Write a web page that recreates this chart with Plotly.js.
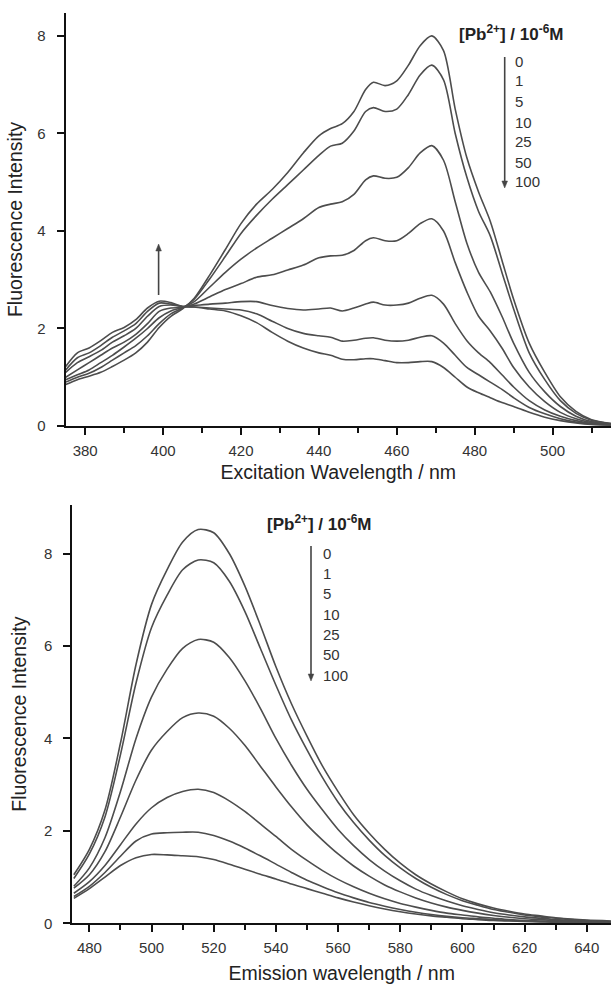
<!DOCTYPE html>
<html>
<head>
<meta charset="utf-8">
<script src="https://cdn.plot.ly/plotly-3.0.1.min.js"></script>
<style>html,body{margin:0;padding:0;background:#fff;}#chart{width:611px;height:984px;}</style>
</head>
<body>
<div id="chart"></div>
<script>
// ---------- data ----------
const concLabels = ['0', '1', '5', '10', '25', '50', '100'];

// Excitation spectra (top panel)
const exX = [375, 378, 381, 384, 387, 390, 393, 396, 399, 402, 405, 408, 412, 416, 420, 424, 428, 432, 436, 440, 443, 446, 449, 452, 454, 457, 460, 463, 466, 469, 472, 475, 478, 481, 484, 487, 490, 494, 498, 502, 506, 510, 515];
const ex0   = [0.85, 0.95, 1.02, 1.10, 1.22, 1.35, 1.50, 1.72, 2.02, 2.25, 2.40, 2.62, 3.10, 3.62, 4.15, 4.55, 4.85, 5.20, 5.60, 5.95, 6.10, 6.20, 6.45, 6.90, 7.05, 6.98, 7.08, 7.40, 7.80, 8.00, 7.70, 6.50, 5.50, 4.80, 4.20, 3.40, 2.60, 1.70, 1.10, 0.60, 0.30, 0.13, 0.05];
const ex1   = [0.90, 1.00, 1.08, 1.20, 1.35, 1.50, 1.65, 1.85, 2.10, 2.30, 2.42, 2.60, 3.02, 3.48, 3.95, 4.32, 4.65, 4.95, 5.25, 5.55, 5.74, 5.80, 6.05, 6.45, 6.53, 6.45, 6.50, 6.80, 7.20, 7.40, 7.10, 6.00, 5.10, 4.40, 3.90, 3.15, 2.40, 1.50, 0.95, 0.52, 0.26, 0.12, 0.05];
const ex5   = [0.95, 1.05, 1.15, 1.30, 1.45, 1.62, 1.80, 2.00, 2.22, 2.36, 2.43, 2.55, 2.85, 3.15, 3.42, 3.65, 3.85, 4.05, 4.25, 4.48, 4.55, 4.60, 4.75, 5.05, 5.13, 5.08, 5.10, 5.30, 5.60, 5.75, 5.45, 4.60, 3.75, 3.15, 2.75, 2.25, 1.70, 1.10, 0.70, 0.40, 0.20, 0.09, 0.04];
const ex10  = [1.00, 1.15, 1.30, 1.45, 1.60, 1.72, 1.88, 2.10, 2.35, 2.42, 2.43, 2.50, 2.65, 2.80, 2.92, 3.05, 3.10, 3.20, 3.30, 3.45, 3.49, 3.50, 3.60, 3.80, 3.86, 3.80, 3.80, 3.95, 4.15, 4.25, 4.00, 3.35, 2.75, 2.25, 1.95, 1.60, 1.20, 0.80, 0.50, 0.28, 0.15, 0.07, 0.03];
const ex25  = [1.10, 1.30, 1.42, 1.55, 1.72, 1.85, 2.00, 2.25, 2.45, 2.48, 2.45, 2.47, 2.50, 2.52, 2.55, 2.55, 2.47, 2.41, 2.38, 2.40, 2.42, 2.36, 2.42, 2.50, 2.54, 2.48, 2.48, 2.52, 2.62, 2.68, 2.50, 2.10, 1.75, 1.50, 1.30, 1.05, 0.80, 0.52, 0.33, 0.20, 0.11, 0.05, 0.02];
const ex50  = [1.15, 1.40, 1.50, 1.65, 1.82, 1.95, 2.10, 2.35, 2.52, 2.50, 2.45, 2.44, 2.42, 2.40, 2.38, 2.30, 2.15, 2.00, 1.90, 1.85, 1.82, 1.74, 1.76, 1.80, 1.81, 1.76, 1.74, 1.76, 1.82, 1.85, 1.70, 1.45, 1.20, 1.05, 0.90, 0.75, 0.58, 0.38, 0.25, 0.15, 0.08, 0.04, 0.02];
const ex100 = [1.22, 1.50, 1.60, 1.75, 1.92, 2.02, 2.18, 2.42, 2.56, 2.53, 2.45, 2.44, 2.40, 2.36, 2.26, 2.12, 1.92, 1.74, 1.60, 1.50, 1.45, 1.37, 1.36, 1.38, 1.38, 1.34, 1.30, 1.30, 1.32, 1.32, 1.20, 1.00, 0.80, 0.68, 0.58, 0.48, 0.40, 0.28, 0.18, 0.11, 0.06, 0.03, 0.02];

// Emission spectra (bottom panel)
const emX = [475, 480, 485, 490, 495, 500, 505, 510, 515, 520, 525, 530, 535, 540, 545, 550, 555, 560, 565, 570, 575, 580, 585, 590, 595, 600, 605, 610, 615, 620, 625, 630, 635, 640, 648];
const em0   = [1.05, 1.60, 2.45, 3.90, 5.60, 6.90, 7.65, 8.25, 8.52, 8.45, 8.00, 7.30, 6.45, 5.55, 4.75, 4.05, 3.40, 2.85, 2.35, 1.95, 1.60, 1.30, 1.05, 0.85, 0.68, 0.53, 0.42, 0.33, 0.26, 0.20, 0.16, 0.12, 0.09, 0.07, 0.05];
const em1   = [0.97, 1.50, 2.30, 3.65, 5.20, 6.40, 7.10, 7.65, 7.86, 7.80, 7.40, 6.75, 5.95, 5.15, 4.40, 3.75, 3.15, 2.62, 2.18, 1.80, 1.47, 1.20, 0.97, 0.78, 0.62, 0.49, 0.39, 0.30, 0.24, 0.18, 0.14, 0.11, 0.08, 0.06, 0.04];
const em5   = [0.80, 1.20, 1.85, 2.85, 4.00, 4.90, 5.50, 5.95, 6.14, 6.08, 5.75, 5.25, 4.65, 4.00, 3.42, 2.90, 2.45, 2.03, 1.68, 1.38, 1.13, 0.92, 0.74, 0.60, 0.48, 0.38, 0.30, 0.23, 0.18, 0.14, 0.11, 0.08, 0.06, 0.05, 0.03];
const em10  = [0.76, 1.05, 1.55, 2.30, 3.10, 3.75, 4.15, 4.45, 4.55, 4.48, 4.22, 3.85, 3.40, 2.95, 2.52, 2.13, 1.80, 1.50, 1.24, 1.02, 0.83, 0.68, 0.55, 0.44, 0.35, 0.28, 0.22, 0.17, 0.13, 0.10, 0.08, 0.06, 0.05, 0.04, 0.02];
const em25  = [0.65, 0.90, 1.25, 1.70, 2.15, 2.50, 2.72, 2.85, 2.90, 2.83, 2.65, 2.42, 2.15, 1.88, 1.60, 1.36, 1.14, 0.95, 0.79, 0.65, 0.53, 0.43, 0.35, 0.28, 0.22, 0.18, 0.14, 0.11, 0.08, 0.06, 0.05, 0.04, 0.03, 0.02, 0.02];
const em50  = [0.58, 0.80, 1.10, 1.45, 1.78, 1.93, 1.96, 1.97, 1.97, 1.90, 1.78, 1.63, 1.46, 1.28, 1.10, 0.93, 0.79, 0.66, 0.55, 0.45, 0.37, 0.30, 0.24, 0.19, 0.15, 0.12, 0.10, 0.08, 0.06, 0.05, 0.04, 0.03, 0.02, 0.02, 0.01];
const em100 = [0.54, 0.75, 1.00, 1.25, 1.42, 1.49, 1.48, 1.46, 1.44, 1.38, 1.28, 1.17, 1.06, 0.96, 0.85, 0.75, 0.65, 0.55, 0.46, 0.38, 0.31, 0.25, 0.20, 0.16, 0.13, 0.10, 0.08, 0.06, 0.05, 0.04, 0.03, 0.02, 0.02, 0.01, 0.01];

const exSeries = [ex0, ex1, ex5, ex10, ex25, ex50, ex100];
const emSeries = [em0, em1, em5, em10, em25, em50, em100];

const xTitleTop = 'Excitation Wavelength / nm';
const xTitleBottom = 'Emission wavelength / nm';
const yTitle = 'Fluorescence Intensity';
const legendHeader = '[Pb<sup>2+</sup>] / 10<sup>-6</sup>M';

// ---------- layout helpers ----------
const W = 611, H = 984;
const px = v => v / W;
const py = v => 1 - v / H;
const FONT = 'Liberation Sans, Arial, Helvetica, sans-serif';
const lineStyle = {color: '#4d4d4d', width: 1.6, shape: 'spline', smoothing: 0.8};
const INK = '#444';

const traces = [];
exSeries.forEach((s, i) => traces.push({
  x: exX, y: s, type: 'scatter', mode: 'lines', line: lineStyle,
  xaxis: 'x', yaxis: 'y', name: concLabels[i] + ' (ex)', showlegend: false, hoverinfo: 'skip'
}));
emSeries.forEach((s, i) => traces.push({
  x: emX, y: s, type: 'scatter', mode: 'lines', line: lineStyle,
  xaxis: 'x2', yaxis: 'y2', name: concLabels[i] + ' (em)', showlegend: false, hoverinfo: 'skip'
}));

const axisCommon = {
  showline: true, linecolor: '#111', linewidth: 2, mirror: false,
  showgrid: false, zeroline: false,
  ticks: 'outside', ticklen: 7, tickwidth: 2, tickcolor: '#111',
  tickfont: {family: FONT, size: 15, color: '#333'}
};
const xMinor = {ticks: 'outside', ticklen: 5, tickwidth: 2, tickcolor: '#111', dtick: 10, showgrid: false};
const titleFont = {family: FONT, size: 19.5, color: '#222'};

const layout = {
  width: W, height: H,
  margin: {l: 0, r: 0, t: 0, b: 0},
  paper_bgcolor: '#fff', plot_bgcolor: '#fff',
  showlegend: false,
  xaxis: Object.assign({}, axisCommon, {
    domain: [px(65.7), 1], anchor: 'y', range: [375, 515],
    tick0: 380, dtick: 20, minor: xMinor, ticklabelstandoff: 3,
    title: {text: xTitleTop, font: titleFont, standoff: 7}
  }),
  yaxis: Object.assign({}, axisCommon, {
    domain: [py(426), py(13)], anchor: 'x', range: [0, 8.47],
    tick0: 0, dtick: 2, ticklabelstandoff: 8,
    title: {text: yTitle, font: titleFont, standoff: 10}
  }),
  xaxis2: Object.assign({}, axisCommon, {
    domain: [px(72.3), 1], anchor: 'y2', range: [474.5, 647.8],
    tick0: 480, dtick: 20, minor: xMinor, ticklabelstandoff: 3,
    title: {text: xTitleBottom, font: titleFont, standoff: 18}
  }),
  yaxis2: Object.assign({}, axisCommon, {
    domain: [py(923.3), py(505)], anchor: 'x2', range: [0, 9.05],
    tick0: 0, dtick: 2, ticklabelstandoff: 8,
    title: {text: yTitle, font: titleFont, standoff: 12}
  }),
  annotations: [],
  shapes: []
};

const ann = layout.annotations;
// legend headers
const headFont = {family: FONT, size: 17, color: '#222', weight: 'bold'};
ann.push({xref: 'paper', yref: 'paper', x: px(457), y: py(33), xanchor: 'left', yanchor: 'middle',
  text: legendHeader, showarrow: false, font: headFont});
ann.push({xref: 'paper', yref: 'paper', x: px(265), y: py(523), xanchor: 'left', yanchor: 'middle',
  text: legendHeader, showarrow: false, font: headFont});
// legend labels
const topLabelY = [62, 81, 101, 122, 142, 162, 182];
const botLabelY = [553, 573, 593, 614, 634, 654, 675];
const labFont = {family: FONT, size: 15, color: '#333'};
concLabels.forEach((t, i) => {
  ann.push({xref: 'paper', yref: 'paper', x: px(513), y: py(topLabelY[i]), xanchor: 'left', yanchor: 'middle',
    text: t, showarrow: false, font: labFont});
  ann.push({xref: 'paper', yref: 'paper', x: px(321), y: py(botLabelY[i]), xanchor: 'left', yanchor: 'middle',
    text: t, showarrow: false, font: labFont});
});

// arrows drawn as shapes (shaft + triangular head)
function arrow(x, y0, y1) {
  const dir = y1 > y0 ? 1 : -1;
  const hh = 7, hw = 2.8;
  layout.shapes.push({type: 'line', xref: 'paper', yref: 'paper',
    x0: px(x), x1: px(x), y0: py(y0), y1: py(y1 - dir * hh * 0.6), line: {color: INK, width: 1.6}});
  layout.shapes.push({type: 'path', xref: 'paper', yref: 'paper', fillcolor: INK, line: {color: INK, width: 0.5},
    path: 'M ' + px(x - hw) + ' ' + py(y1 - dir * hh) + ' L ' + px(x + hw) + ' ' + py(y1 - dir * hh) +
          ' L ' + px(x) + ' ' + py(y1) + ' Z'});
}
arrow(504.7, 57, 188);
arrow(311, 546, 681);
arrow(158.6, 295, 244);

Plotly.newPlot('chart', traces, layout, {staticPlot: true, displayModeBar: false});
</script>
</body>
</html>
